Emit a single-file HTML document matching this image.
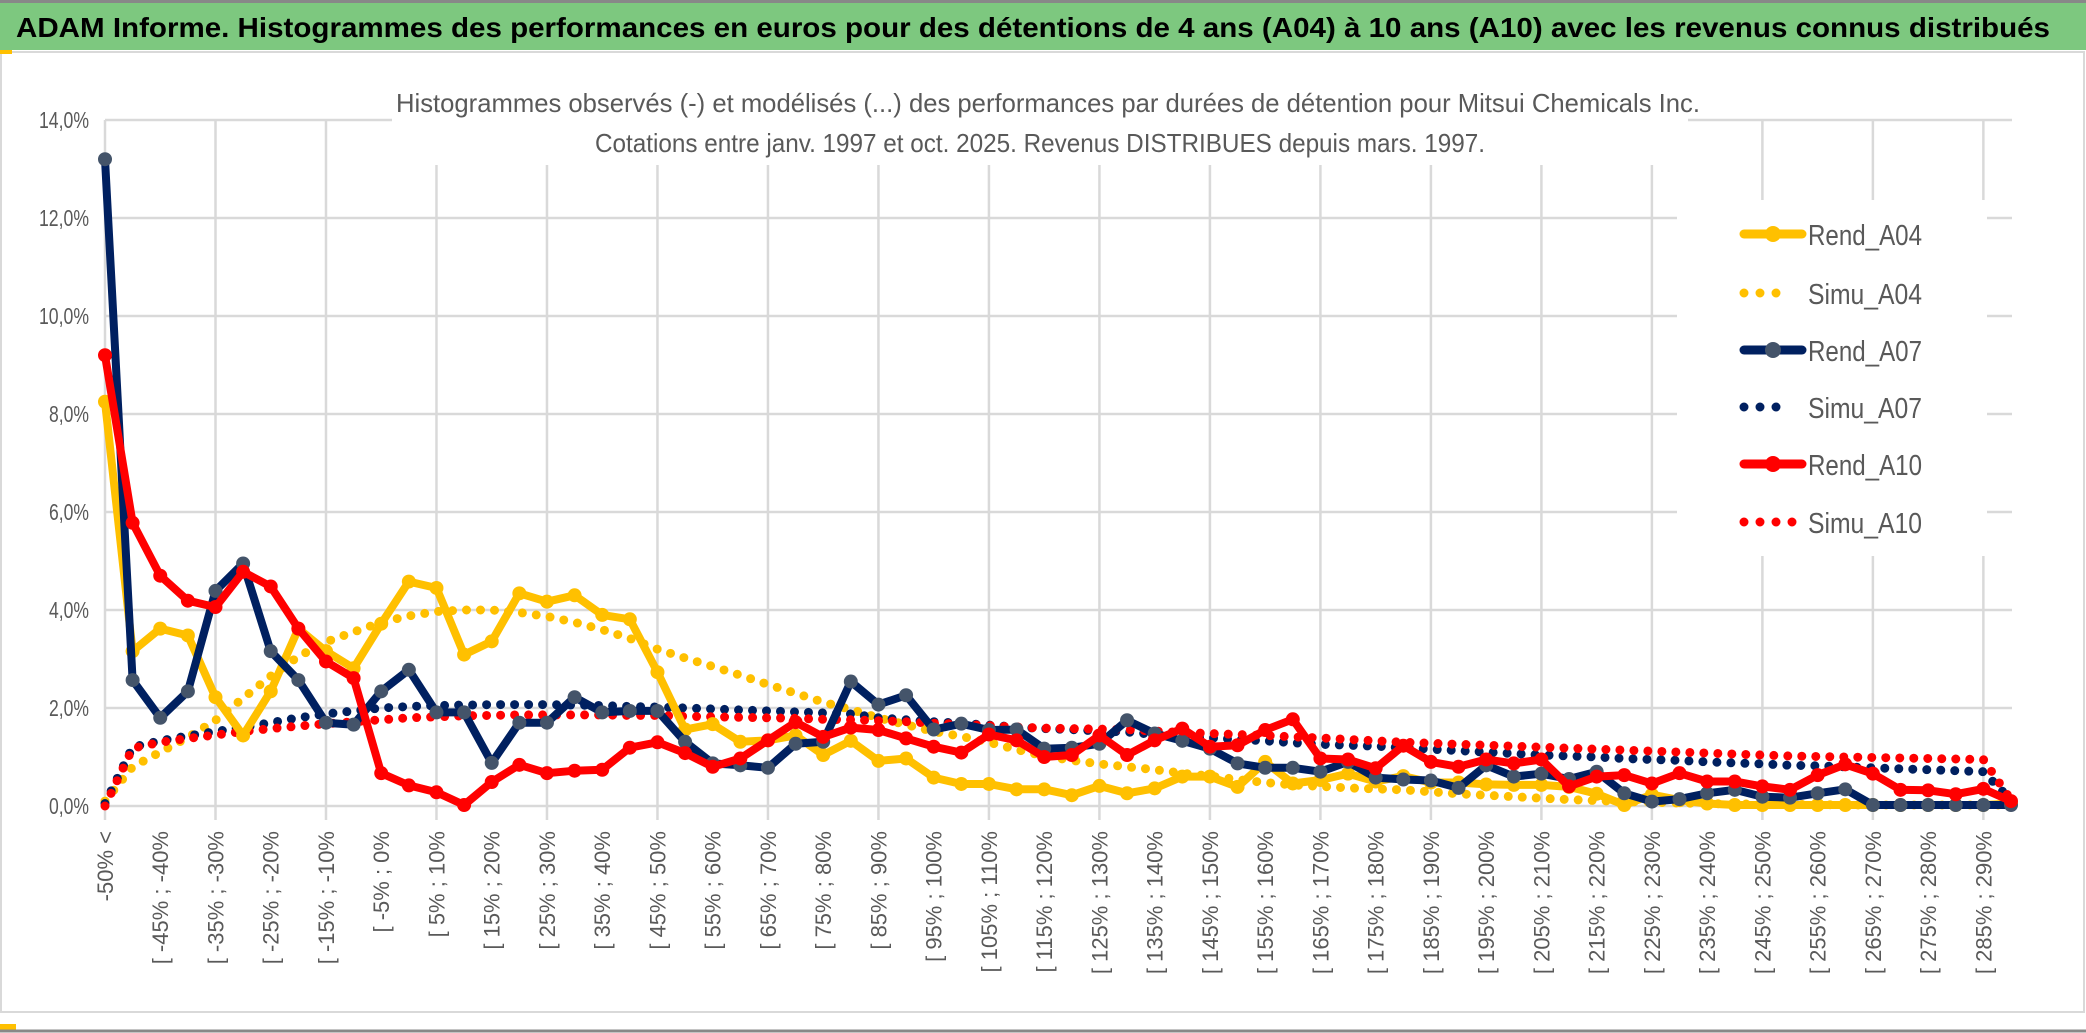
<!DOCTYPE html>
<html><head><meta charset="utf-8"><style>
html,body{margin:0;padding:0;background:#fff;}
svg{display:block;}
</style></head><body>
<svg id="chart" width="2086" height="1033" viewBox="0 0 2086 1033" xmlns="http://www.w3.org/2000/svg" font-family="Liberation Sans, sans-serif">
  <rect x="0" y="0" width="2086" height="1033" fill="#fff"/>
  <rect x="0" y="2" width="2086" height="48" fill="#7dc87f"/>
  <line x1="0" y1="1.5" x2="2086" y2="1.5" stroke="#888" stroke-width="3"/>
  <text x="16" y="37" font-size="28" font-weight="bold" fill="#000" textLength="2034" lengthAdjust="spacingAndGlyphs">ADAM Informe. Histogrammes des performances en euros pour des détentions de 4 ans (A04) à 10 ans (A10) avec les revenus connus distribués</text>
  <rect x="1" y="52" width="2083" height="960" fill="#fff" stroke="#d9d9d9" stroke-width="2"/>
  <rect x="0" y="50" width="12" height="4" fill="#ffc000"/>
  <rect x="0" y="1024" width="16" height="7" fill="#ffc000"/>
  <line x1="0" y1="1031" x2="2086" y2="1031" stroke="#888" stroke-width="3"/>
  <g id="grid"></g>
  <rect x="392" y="95" width="1296" height="70" fill="#fff"/>
  <text x="1048" y="112" font-size="26" fill="#595959" text-anchor="middle" textLength="1304" lengthAdjust="spacingAndGlyphs">Histogrammes observés (-) et modélisés (...) des performances par durées de détention pour Mitsui Chemicals Inc.</text>
  <text x="1040" y="152" font-size="26" fill="#595959" text-anchor="middle" textLength="890" lengthAdjust="spacingAndGlyphs">Cotations entre janv. 1997 et oct. 2025. Revenus DISTRIBUES depuis mars. 1997.</text>
  <g id="yaxis"></g>
  <g id="xaxis"></g>
  <g id="series"></g>
  <g id="legend"></g>
</svg>
<script>
const categoryLabels = ["-50% <","[ -45% ; -40%","[ -35% ; -30%","[ -25% ; -20%","[ -15% ; -10%","[ -5% ; 0%","[ 5% ; 10%","[ 15% ; 20%","[ 25% ; 30%","[ 35% ; 40%","[ 45% ; 50%","[ 55% ; 60%","[ 65% ; 70%","[ 75% ; 80%","[ 85% ; 90%","[ 95% ; 100%","[ 105% ; 110%","[ 115% ; 120%","[ 125% ; 130%","[ 135% ; 140%","[ 145% ; 150%","[ 155% ; 160%","[ 165% ; 170%","[ 175% ; 180%","[ 185% ; 190%","[ 195% ; 200%","[ 205% ; 210%","[ 215% ; 220%","[ 225% ; 230%","[ 235% ; 240%","[ 245% ; 250%","[ 255% ; 260%","[ 265% ; 270%","[ 275% ; 280%","[ 285% ; 290%"];
const yTicks = [0,2,4,6,8,10,12,14];
const yTickLabels = ["0,0%","2,0%","4,0%","6,0%","8,0%","10,0%","12,0%","14,0%"];
const seriesNames = ["Rend_A04","Simu_A04","Rend_A07","Simu_A07","Rend_A10","Simu_A10"];
const rendA04 = [8.25,3.16,3.62,3.48,2.22,1.44,2.34,3.62,3.16,2.81,3.72,4.58,4.45,3.09,3.36,4.34,4.17,4.3,3.9,3.81,2.73,1.56,1.67,1.31,1.34,1.44,1.04,1.33,0.92,0.97,0.58,0.45,0.45,0.34,0.34,0.22,0.41,0.26,0.36,0.6,0.6,0.39,0.9,0.46,0.53,0.66,0.5,0.61,0.48,0.48,0.44,0.43,0.43,0.39,0.25,0.02,0.23,0.12,0.05,0.02,0.02,0.02,0.02,0.02,0.02,0.02,0.02,0.02,0.02,0.05];
const simuA04 = [0.1,0.8,1.1,1.4,1.75,2.2,2.65,3.05,3.35,3.55,3.75,3.88,3.97,4.0,4.0,3.95,3.87,3.75,3.6,3.42,3.2,3.02,2.85,2.67,2.48,2.3,2.12,1.97,1.8,1.66,1.52,1.42,1.3,1.15,1.02,0.93,0.86,0.8,0.74,0.67,0.61,0.54,0.48,0.43,0.4,0.37,0.35,0.33,0.29,0.25,0.22,0.19,0.16,0.13,0.11,0.09,0.08,0.06,0.05,0.04,0.04,0.03,0.03,0.02,0.02,0.02,0.02,0.02,0.02,0.02];
const rendA07 = [13.2,2.57,1.8,2.34,4.39,4.95,3.16,2.57,1.7,1.66,2.34,2.78,1.91,1.91,0.88,1.7,1.7,2.22,1.91,1.94,1.94,1.31,0.87,0.83,0.78,1.27,1.31,2.54,2.07,2.26,1.56,1.68,1.55,1.56,1.17,1.19,1.27,1.75,1.48,1.33,1.17,0.87,0.78,0.78,0.7,0.9,0.58,0.54,0.52,0.37,0.83,0.6,0.66,0.55,0.7,0.26,0.09,0.14,0.26,0.33,0.19,0.17,0.26,0.34,0.02,0.02,0.02,0.02,0.02,0.02];
const simuA07 = [0.05,1.2,1.33,1.43,1.52,1.6,1.7,1.8,1.88,1.94,2.0,2.03,2.05,2.06,2.07,2.07,2.07,2.06,2.05,2.03,2.02,2.0,1.98,1.96,1.94,1.92,1.9,1.88,1.8,1.76,1.72,1.69,1.65,1.61,1.58,1.56,1.53,1.51,1.46,1.42,1.39,1.36,1.33,1.29,1.26,1.24,1.22,1.19,1.16,1.13,1.1,1.07,1.04,1.02,1.0,0.97,0.95,0.93,0.9,0.88,0.86,0.83,0.82,0.8,0.78,0.76,0.74,0.72,0.7,0.12];
const rendA10 = [9.2,5.78,4.7,4.19,4.06,4.78,4.48,3.62,2.95,2.61,0.67,0.42,0.28,0.02,0.49,0.84,0.67,0.72,0.74,1.19,1.3,1.08,0.8,0.97,1.34,1.71,1.41,1.6,1.55,1.38,1.21,1.09,1.46,1.34,1.0,1.04,1.44,1.04,1.34,1.58,1.21,1.24,1.55,1.77,0.97,0.95,0.77,1.23,0.9,0.8,0.95,0.87,0.95,0.4,0.6,0.63,0.46,0.67,0.5,0.5,0.4,0.33,0.63,0.85,0.66,0.33,0.32,0.24,0.35,0.1];
const simuA10 = [0,1.18,1.3,1.38,1.45,1.52,1.58,1.63,1.68,1.72,1.76,1.8,1.82,1.84,1.85,1.86,1.86,1.86,1.86,1.85,1.85,1.83,1.82,1.81,1.8,1.79,1.77,1.76,1.74,1.72,1.69,1.67,1.64,1.61,1.59,1.58,1.57,1.56,1.53,1.5,1.48,1.46,1.44,1.41,1.39,1.36,1.33,1.3,1.28,1.26,1.24,1.22,1.2,1.18,1.16,1.14,1.12,1.1,1.08,1.06,1.04,1.02,1.01,1.0,0.99,0.98,0.97,0.96,0.95,0.12];

const NS = "http://www.w3.org/2000/svg";
const X0 = 105, X1 = 2011, Y0 = 806, Y1 = 120, YMAX = 14;
const N = rendA04.length;
function xPos(i){ return X0 + (X1 - X0) * i / (N - 1); }
function yPos(v){ return Y0 - (Y0 - Y1) * v / YMAX; }
function mk(tag, attrs, parent){ const e = document.createElementNS(NS, tag); for (const k in attrs) e.setAttribute(k, attrs[k]); parent.appendChild(e); return e; }

const grid = document.getElementById('grid');
yTicks.forEach(function(t){
  const l = mk('line', {x1: X0, x2: X1 + 1, y1: yPos(t), y2: yPos(t), stroke: '#d9d9d9', 'stroke-width': 2.5}, grid);
  
  
});
for (let i = 0; i < N; i += 4) {
  const l = mk('line', {x1: xPos(i), x2: xPos(i), y1: Y1, y2: Y0 + 14, stroke: '#d9d9d9', 'stroke-width': 2.5}, grid);
  
  
}
const yaxis = document.getElementById('yaxis');
yTicks.forEach(function(t, k){
  const tx = mk('text', {x: 89, y: yPos(t) + 8, 'font-size': 23, fill: '#595959', 'text-anchor': 'end', textLength: yTickLabels[k].length * 10, lengthAdjust: 'spacingAndGlyphs'}, yaxis);
  tx.textContent = yTickLabels[k];
  
  
});
const xaxis = document.getElementById('xaxis');
categoryLabels.forEach(function(lab, k){
  const x = xPos(k * 2) + 8, y = 831;
  const tx = mk('text', {x: x, y: y, 'font-size': 22, fill: '#595959', 'text-anchor': 'end', transform: 'rotate(-90 ' + x + ' ' + y + ')'}, xaxis);
  tx.textContent = lab;
  
  
});

const seriesG = document.getElementById('series');
function pts(arr){ return arr.map(function(v, i){ return xPos(i).toFixed(1) + ',' + yPos(v).toFixed(1); }).join(' '); }
function dotted(arr, color, name){
  const p = mk('polyline', {points: pts(arr), fill: 'none', stroke: color, 'stroke-width': 9, 'stroke-linecap': 'round', 'stroke-dasharray': '0 14'}, seriesG);
  
  
}
function solid(arr, color, mcolor, name){
  const p = mk('polyline', {points: pts(arr), fill: 'none', stroke: color, 'stroke-width': 8, 'stroke-linejoin': 'round'}, seriesG);
  
  
  arr.forEach(function(v, i){
    const c = mk('circle', {cx: xPos(i), cy: yPos(v), r: 7, fill: mcolor}, seriesG);
    
    
  });
}
dotted(simuA04, '#ffc000', 'simu-a04-line');
dotted(simuA07, '#002060', 'simu-a07-line');
dotted(simuA10, '#ff0000', 'simu-a10-line');
solid(rendA04, '#ffc000', '#ffc000', 'rend-a04-line');
solid(rendA07, '#002060', '#44546a', 'rend-a07-line');
solid(rendA10, '#ff0000', '#ff0000', 'rend-a10-line');

const legend = document.getElementById('legend');
const lbg = mk('rect', {x: 1677, y: 200, width: 310, height: 356, fill: '#fff'}, legend);


const legColors = ['#ffc000','#ffc000','#002060','#002060','#ff0000','#ff0000'];
const legMarker = ['#ffc000','#ffc000','#44546a','#44546a','#ff0000','#ff0000'];
const legY = [234,293,350,407,464,522];
seriesNames.forEach(function(nm, k){
  const g = mk('g', {}, legend);
  
  
  const y = legY[k];
  if (k % 2 === 0) {
    mk('line', {x1: 1744, x2: 1802, y1: y, y2: y, stroke: legColors[k], 'stroke-width': 9, 'stroke-linecap': 'round'}, g);
    mk('circle', {cx: 1773, cy: y, r: 8, fill: legMarker[k]}, g);
  } else {
    mk('line', {x1: 1744, x2: (k === 5 ? 1802 : 1792), y1: y, y2: y, stroke: legColors[k], 'stroke-width': 9, 'stroke-linecap': 'round', 'stroke-dasharray': '0 16'}, g);
  }
  const t = mk('text', {x: 1808, y: y + 11, 'font-size': 29, fill: '#595959', textLength: 114, lengthAdjust: 'spacingAndGlyphs'}, g);
  t.textContent = nm;
});
</script>
</body></html>
